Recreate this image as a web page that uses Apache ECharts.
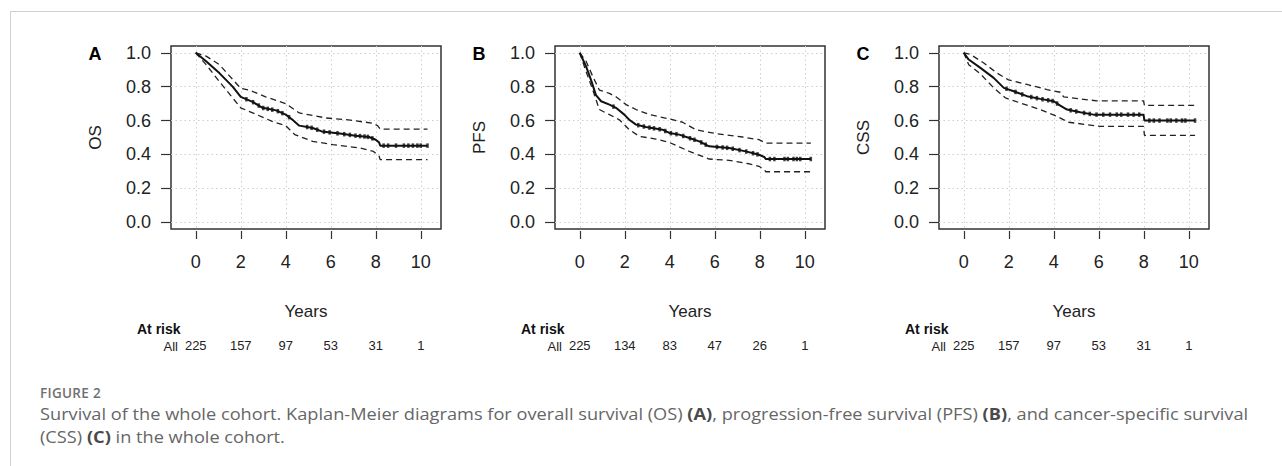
<!DOCTYPE html>
<html><head><meta charset="utf-8">
<script src="https://cdn.jsdelivr.net/npm/echarts@6/dist/echarts.min.js"></script>
<style>
html,body{margin:0;padding:0;background:#fff;}
#wrap{position:relative;width:1282px;height:466px;overflow:hidden;background:#fff;}
#chart{position:absolute;left:0;top:0;width:1282px;height:466px;}
#ftop{position:absolute;left:10px;top:11px;right:0;height:0;border-top:1.5px solid #d0d0d0;}
#fleft{position:absolute;left:10px;top:11px;bottom:0;width:0;border-left:1.5px solid #d0d0d0;}
#cap{position:absolute;left:40px;top:383px;font-family:"Open Sans",sans-serif;color:#666;white-space:nowrap;}
#cap .fig{font-size:13.5px;font-weight:600;color:#707070;letter-spacing:0.3px;line-height:20px;}
#cap .txt{font-size:15.5px;line-height:23px;transform:scaleX(1.1);transform-origin:0 0;}
#cap b{font-weight:700;color:#4a4a4a;}
</style>
</head><body>
<div id="wrap">
<div id="ftop"></div><div id="fleft"></div>
<div id="chart"></div>
<div id="cap">
<div class="fig">FIGURE 2</div>
<div class="txt" id="captxt">Survival of the whole cohort. Kaplan-Meier diagrams for overall survival (OS) <b>(A)</b>, progression-free survival (PFS) <b>(B)</b>, and cancer-specific survival<br>(CSS) <b>(C)</b> in the whole cohort.</div>
</div>
</div>
<script>
// ---- data ----
const xTicks = [0, 2, 4, 6, 8, 10];
const yTicks = [0, 0.2, 0.4, 0.6, 0.8, 1.0];

const osCurve = [[0,1.0],[0.46,0.95],[1.05,0.88],[1.64,0.80],[2.0,0.74],[2.53,0.71],[2.97,0.675],[3.57,0.66],[4.0,0.635],[4.3,0.605],[4.6,0.57],[5.2,0.556],[5.6,0.536],[6.4,0.523],[7.1,0.511],[7.7,0.503],[8.0,0.487],[8.15,0.47],[8.2,0.452],[10.3,0.452]];
const osUpper = [[0,1.0],[0.46,0.98],[1.05,0.93],[2.0,0.79],[2.38,0.78],[3.1,0.74],[4.0,0.70],[4.6,0.645],[5.2,0.63],[5.8,0.615],[6.7,0.605],[7.85,0.585],[8.08,0.57],[8.2,0.55],[10.3,0.55]];
const osLower = [[0,1.0],[0.46,0.93],[1.05,0.83],[2.0,0.675],[2.53,0.645],[3.4,0.595],[4.0,0.57],[4.4,0.517],[5.2,0.477],[6.1,0.458],[7.3,0.438],[7.9,0.418],[8.15,0.389],[8.2,0.369],[10.3,0.369]];
const osCensor = [2.25,2.55,2.8,3.0,3.2,3.4,3.65,3.85,4.15,4.95,5.15,5.4,5.7,5.95,6.3,6.6,6.85,7.1,7.3,7.5,7.65,7.85,8.35,8.55,8.9,9.25,9.45,9.65,9.85,10.0,10.3];
const osRisk = [225, 157, 97, 53, 31, 1];

const pfsCurve = [[0,1.0],[0.28,0.92],[0.5,0.84],[0.72,0.75],[0.95,0.714],[1.32,0.694],[1.61,0.675],[1.98,0.635],[2.2,0.605],[2.5,0.576],[2.94,0.562],[3.68,0.546],[3.98,0.527],[4.42,0.517],[4.87,0.497],[5.31,0.477],[5.75,0.448],[6.64,0.438],[7.38,0.418],[7.97,0.398],[8.2,0.385],[8.27,0.373],[10.27,0.373]];
const pfsUpper = [[0,1.0],[0.28,0.95],[0.58,0.86],[0.87,0.78],[1.32,0.76],[1.61,0.74],[2.06,0.694],[2.5,0.665],[3.1,0.635],[3.98,0.61],[4.57,0.59],[5.16,0.546],[6.05,0.523],[7.23,0.503],[7.97,0.487],[8.27,0.467],[10.27,0.467]];
const pfsLower = [[0,1.0],[0.28,0.89],[0.58,0.78],[0.87,0.665],[1.32,0.635],[1.76,0.605],[2.2,0.546],[2.65,0.507],[3.39,0.491],[3.98,0.471],[4.87,0.418],[5.75,0.373],[6.64,0.365],[7.53,0.345],[7.97,0.33],[8.2,0.31],[8.27,0.298],[10.27,0.298]];
const pfsCensor = [1.5,2.6,2.85,3.1,3.3,3.55,3.8,4.05,4.3,4.6,4.9,5.1,5.4,5.6,6.1,6.35,6.55,6.8,7.1,7.4,7.7,7.9,8.45,8.65,9.1,9.25,9.5,9.65,9.8,10.27];
const pfsRisk = [225, 134, 83, 47, 26, 1];

const cssCurve = [[0,1.0],[0.22,0.96],[0.74,0.911],[1.33,0.852],[1.78,0.793],[2.22,0.773],[2.81,0.744],[3.4,0.728],[4.0,0.714],[4.29,0.688],[4.59,0.665],[5.18,0.649],[5.77,0.635],[7.99,0.635],[8.03,0.6],[10.28,0.6]];
const cssUpper = [[0,1.0],[0.3,0.99],[0.89,0.94],[1.48,0.88],[1.99,0.84],[2.81,0.813],[3.7,0.783],[4.29,0.767],[4.44,0.74],[5.18,0.728],[5.92,0.716],[7.99,0.716],[8.03,0.69],[10.28,0.69]];
const cssLower = [[0,1.0],[0.22,0.93],[0.74,0.875],[1.33,0.793],[1.85,0.734],[2.51,0.704],[3.4,0.665],[4.14,0.625],[4.66,0.59],[5.47,0.576],[6.07,0.566],[7.99,0.566],[8.03,0.513],[10.28,0.513]];
const cssCensor = [1.9,2.3,2.6,3.0,3.25,3.5,3.75,3.95,4.15,4.75,5.0,5.35,5.6,5.9,6.2,6.5,6.8,7.0,7.3,7.55,7.8,8.25,8.45,8.7,9.05,9.2,9.45,9.7,9.85,10.28];
const cssRisk = [225, 157, 97, 53, 31, 1];

const panelLetters = ['A', 'B', 'C'];
const panelNames = ['OS', 'PFS', 'CSS'];
const xTitle = 'Years';
const riskTitle = 'At risk';
const riskGroup = 'All';

// fit caption line width to the reference span (x 40 -> ~1250)
(function fitCaption(){
  const el = document.getElementById('captxt');
  el.style.transform = 'none';
  el.style.display = 'inline-block';
  const w = el.getBoundingClientRect().width;
  const s = Math.min(1.3, 1208 / w);
  el.style.transform = 'scaleX(' + s.toFixed(3) + ')';
})();

// ---- layout ----
const FONT = '"Liberation Sans", Arial, sans-serif';
const panels = [
  {curve: osCurve, upper: osUpper, lower: osLower, censor: osCensor, risk: osRisk, left: 171},
  {curve: pfsCurve, upper: pfsUpper, lower: pfsLower, censor: pfsCensor, risk: pfsRisk, left: 555},
  {curve: cssCurve, upper: cssUpper, lower: cssLower, censor: cssCensor, risk: cssRisk, left: 939}
];
const GTOP = 46, GW = 270, GH = 183;

function interp(curve, t) {
  for (let i = 1; i < curve.length; i++) {
    if (t <= curve[i][0]) {
      const [x0, y0] = curve[i-1], [x1, y1] = curve[i];
      if (x1 === x0) return y1;
      return y0 + (y1 - y0) * (t - x0) / (x1 - x0);
    }
  }
  return curve[curve.length-1][1];
}

const grid = [], xAxis = [], yAxis = [], series = [], graphic = [];
panels.forEach((p, i) => {
  grid.push({left: p.left, top: GTOP, width: GW, height: GH, show: true,
    borderColor: '#333', borderWidth: 1.5, backgroundColor: 'transparent'});
  xAxis.push({
    gridIndex: i, type: 'value', min: -1.1, max: 10.9, offset: 2, position: 'bottom',
    axisLine: {show: false, onZero: false},
    axisTick: {show: true, customValues: xTicks, length: 8, lineStyle: {color: '#333', width: 1.2}},
    axisLabel: {customValues: xTicks, margin: 22, fontSize: 18, color: '#222', fontFamily: FONT},
    splitLine: {show: true, lineStyle: {color: '#cfcfcf', type: [1.5, 3], width: 1}},
    name: xTitle, nameLocation: 'middle', nameGap: 72,
    nameTextStyle: {fontSize: 17, color: '#222', fontFamily: FONT}
  });
  xAxis.push({
    gridIndex: i, type: 'value', min: -1.1, max: 10.9, position: 'bottom', offset: 110,
    axisLine: {show: false, onZero: false}, axisTick: {show: false}, splitLine: {show: false},
    axisLabel: {customValues: xTicks, margin: 0, fontSize: 13, color: '#222', fontFamily: FONT,
      formatter: v => String(p.risk[xTicks.indexOf(v)])}
  });
  yAxis.push({
    gridIndex: i, type: 'value', min: -0.04, max: 1.04, position: 'left',
    axisLine: {show: false, onZero: false},
    axisTick: {show: true, customValues: yTicks, length: 10, lineStyle: {color: '#333', width: 1.2}},
    axisLabel: {customValues: yTicks, margin: 20, fontSize: 18, color: '#222', fontFamily: FONT,
      formatter: v => v.toFixed(1)},
    splitLine: {show: true, lineStyle: {color: '#cfcfcf', type: [1.5, 3], width: 1}},
    name: panelNames[i], nameLocation: 'middle', nameGap: 67, nameRotate: 90,
    nameTextStyle: {fontSize: 17, color: '#222', fontFamily: FONT}
  });
  const xi = i * 2;
  series.push({type: 'line', xAxisIndex: xi, yAxisIndex: i, data: p.upper, symbol: 'none',
    lineStyle: {color: '#222', width: 1.3, type: [6, 4]}, silent: true, z: 2});
  series.push({type: 'line', xAxisIndex: xi, yAxisIndex: i, data: p.lower, symbol: 'none',
    lineStyle: {color: '#222', width: 1.3, type: [6, 4]}, silent: true, z: 2});
  series.push({type: 'line', xAxisIndex: xi, yAxisIndex: i, data: p.curve, symbol: 'none',
    lineStyle: {color: '#111', width: 2}, silent: true, z: 3});
  series.push({type: 'scatter', xAxisIndex: xi, yAxisIndex: i,
    data: p.censor.map(t => [t, interp(p.curve, t)]),
    symbol: 'rect', symbolSize: [2.5, 4.5], itemStyle: {color: '#111'}, silent: true, z: 4});

  const dx = p.left - 171;
  graphic.push({type: 'text', x: 95 + dx, y: 54, style: {text: panelLetters[i], fontSize: 18, fontWeight: 'bold',
    fontFamily: FONT, fill: '#000', align: 'center', verticalAlign: 'middle'}});
  graphic.push({type: 'text', x: 137 + dx, y: 329, style: {text: riskTitle, fontSize: 14, fontWeight: 'bold',
    fontFamily: FONT, fill: '#111', align: 'left', verticalAlign: 'middle'}});
  graphic.push({type: 'text', x: 178 + dx, y: 346, style: {text: riskGroup, fontSize: 13,
    fontFamily: FONT, fill: '#222', align: 'right', verticalAlign: 'middle'}});
});

const chart = echarts.init(document.getElementById('chart'), null, {renderer: 'svg'});
chart.setOption({animation: false, backgroundColor: 'transparent', grid, xAxis, yAxis, series, graphic});
</script>
</body></html>
